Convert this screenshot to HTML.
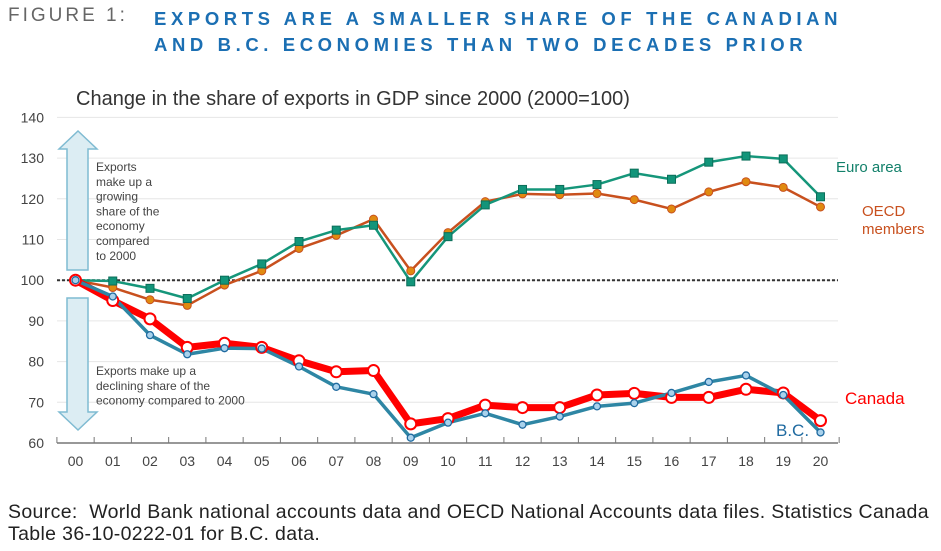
<!DOCTYPE html>
<html><head><meta charset="utf-8"><style>
body{margin:0;width:941px;height:551px;background:#fff;font-family:"Liberation Sans",sans-serif;overflow:hidden;position:relative}
.abs{position:absolute;white-space:nowrap}
</style></head><body>
<div class="abs" style="left:8px;top:5px;font-size:19px;letter-spacing:3px;color:#666">FIGURE 1:</div>
<div class="abs" style="left:154px;top:6px;font-size:18.5px;font-weight:bold;letter-spacing:4.6px;color:#1b6fb3;line-height:26px">EXPORTS ARE A SMALLER SHARE OF THE CANADIAN<br>AND B.C. ECONOMIES THAN TWO DECADES PRIOR</div>
<div class="abs" style="left:8px;top:501px;font-size:19.5px;letter-spacing:0.35px;color:#222;line-height:22px">Source:&nbsp; World Bank national accounts data and OECD National Accounts data files. Statistics Canada<br>Table 36-10-0222-01 for B.C. data.</div>
<svg id="chart" width="941" height="551" style="position:absolute;left:0;top:0"></svg>
<script>
const years=["00","01","02","03","04","05","06","07","08","09","10","11","12","13","14","15","16","17","18","19","20"];
const euro=[100,99.8,98,95.5,100,104,109.5,112.3,113.5,99.6,110.7,118.5,122.3,122.3,123.5,126.3,124.8,129,130.5,129.8,120.5];
const oecd=[100,98.2,95.2,93.8,98.8,102.3,107.8,111,115,102.3,111.7,119.3,121.2,121,121.3,119.8,117.5,121.7,124.2,122.8,118];
const canada=[100,95,90.5,83.5,84.5,83.5,80.2,77.5,77.8,64.7,66,69.3,68.7,68.7,71.8,72.2,71.2,71.2,73.2,72.3,65.5];
const bc=[100,96,86.5,81.8,83.3,83.2,78.8,73.8,72,61.3,65,67.3,64.5,66.5,69,69.8,72.3,75,76.6,71.8,62.6];
const yTicks=[60,70,80,90,100,110,120,130,140];
const NS="http://www.w3.org/2000/svg";
const svg=document.getElementById('chart');
const X=i=>75.5+i*37.25, Y=v=>443-(v-60)*4.07;
const AX0=57, AX1=838;
function mk(t,a,p){const e=document.createElementNS(NS,t);for(const k in a)e.setAttribute(k,a[k]);(p||svg).appendChild(e);return e;}
let tt=mk('text',{x:76,y:105,'font-size':20,fill:'#333'});tt.textContent='Change in the share of exports in GDP since 2000 (2000=100)';


yTicks.forEach(v=>{
 if(v>60){const g=mk('line',{x1:AX0,x2:AX1,y1:Y(v),y2:Y(v),stroke:'#e6e6e6','stroke-width':1});
 
 }
 const t=mk('text',{x:44,y:Y(v)+5,'font-size':14,fill:'#444','text-anchor':'end'});t.textContent=v;
 
 
});
const up=mk('path',{d:'M78,131 L97,149 L88,149 L88,270 L67,270 L67,149 L59,149 Z',fill:'#dcedf3',stroke:'#7fbbd2','stroke-width':1.5});


const dn=mk('path',{d:'M67,298 L88,298 L88,412 L97,412 L78,430 L59,412 L67,412 Z',fill:'#dcedf3',stroke:'#7fbbd2','stroke-width':1.5});


const a1=mk('text',{'font-size':12,fill:'#444'});


["Exports","make up a","growing","share of the","economy","compared","to 2000"].forEach((s,i)=>{const ts=mk('tspan',{x:96,y:171+i*14.8},a1);ts.textContent=s;});
const a2=mk('text',{'font-size':12,fill:'#444'});


["Exports make up a","declining share of the","economy compared to 2000"].forEach((s,i)=>{const ts=mk('tspan',{x:96,y:375+i*14.8},a2);ts.textContent=s;});
const b=mk('line',{x1:AX0,x2:AX1,y1:Y(100),y2:Y(100),stroke:'#333','stroke-width':2,'stroke-dasharray':'3,2'});


const ax=mk('line',{x1:AX0,x2:AX1,y1:443,y2:443,stroke:'#777','stroke-width':1.5});


for(let i=0;i<=21;i++){const x=X(i)-18.6;const tk=mk('line',{x1:x,x2:x,y1:437,y2:443,stroke:'#777'});
 
 }
years.forEach((y,i)=>{const t=mk('text',{x:X(i),y:466,'font-size':14,fill:'#444','text-anchor':'middle'});t.textContent=y;
 
 });
function series(d,color,w,name){const l=mk('polyline',{points:d.map((v,i)=>X(i)+','+Y(v)).join(' '),fill:'none',stroke:color,'stroke-width':w,'stroke-linejoin':'round'});
 
 }
series(oecd,'#c8501e',2.5,'oecd');
series(euro,'#15967a',2.5,'euro');
series(canada,'#ff0000',7,'canada');
series(bc,'#2e86a4',3.5,'bc');
oecd.forEach((v,i)=>{const c=mk('circle',{cx:X(i),cy:Y(v),r:4,fill:'#e08a10',stroke:'#c8501e','stroke-width':1});
 
 });
euro.forEach((v,i)=>{const c=mk('rect',{x:X(i)-4,y:Y(v)-4,width:8,height:8,fill:'#12957a',stroke:'#0b6f5a','stroke-width':1});
 
 });
canada.forEach((v,i)=>{const c=mk('circle',{cx:X(i),cy:Y(v),r:5.5,fill:'#fff',stroke:'#ff0000','stroke-width':2});
 
 });
bc.forEach((v,i)=>{const c=mk('circle',{cx:X(i),cy:Y(v),r:3.5,fill:'#a9d2ec',stroke:'#1f6aa0','stroke-width':1.3});
 
 });
function lab(txt,x,y,color,size,name){const t=mk('text',{x:x,y:y,'font-size':size,fill:color});t.textContent=txt;
 
 return t;}
lab('Euro area',836,172,'#12806a',15,'legend-euro');
lab('OECD',862,216,'#c8501e',15,'legend-oecd');
lab('members',862,234,'#c8501e',15,'legend-oecd-2');
lab('Canada',845,404,'#ff0000',17,'legend-canada');
lab('B.C.',776,436,'#1f6aa0',17,'legend-bc');
</script>
</body></html>
